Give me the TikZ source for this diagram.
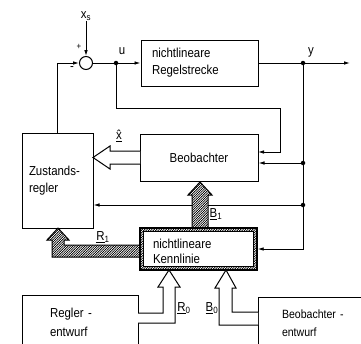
\documentclass[tikz,border=0pt]{standalone}
\usepackage{fontspec}
\setmainfont[FakeStretch=0.88]{Liberation Sans}
\usetikzlibrary{arrows.meta,calc,patterns.meta}
\tikzset{every picture/.style={line width=0.9pt}}
\tikzdeclarepattern{
  name=densehatch, type=uncolored,
  bounding box={(-1pt,-1pt) and (3.4pt,3.4pt)},
  tile size={(2.4pt,2.4pt)},
  code={\draw[line width=0.45pt] (-1pt,-1pt) -- (3.4pt,3.4pt);}
}
\tikzset{
  block/.style={draw, line width=1pt, fill=white, inner sep=0pt, font=\fontsize{13pt}{17pt}\selectfont},
  sig/.style={-{Latex[length=6pt,width=3.6pt]}},
  hatched/.style={draw, line width=1pt, fill=white, postaction={pattern=densehatch}},
  hollow/.style={draw, line width=1pt, fill=white},
  lbl/.style={inner sep=0pt, font=\fontsize{13pt}{14pt}\selectfont},
  dot/.style={circle, fill, inner sep=0pt, minimum size=4.5pt}
}

\begin{document}
\begin{tikzpicture}[x=1pt,y=-1pt]
  \useasboundingbox (0,0) rectangle (361,343);
  \clip (0,0) rectangle (361,343);

  % Regelkreis oben
  \node[block, minimum width=117pt, minimum height=46pt, text width=95pt, align=left] (strecke) at (199.5,63) {nichtlineare\\Regelstrecke};
  \node[circle, draw, line width=1pt, minimum size=13pt, inner sep=0pt] (sum) at (86,63) {};
  \node[lbl] (xs) at (86,16) {x\textsubscript{s}};
  \node[lbl] (plus) at (79,47) {\fontsize{9pt}{9pt}\selectfont +};
  \node[lbl] (minus) at (72,69) {-};
  \coordinate (u) at (116,63);
  \coordinate (y) at (303,63);
  \coordinate (out) at (350,63);
  \node[lbl] (ulbl) at (122,51) {u};
  \node[lbl] (ylbl) at (311,52) {y};

  % Beobachter und Zustandsregler
  \node[block, minimum width=118pt, minimum height=47pt] (beob) at (199,157.5) {Beobachter};
  \node[block, minimum width=71pt, minimum height=95pt, text width=57pt, align=left] (zreg) at (57.5,180.5) {Zustands-\\regler};

  % Entwurfsbloecke unten
  \node[block, minimum width=116pt, minimum height=54pt, text width=60pt, align=left, font=\fontsize{13pt}{19pt}\selectfont] (rent) at (80,322) {Regler -\\entwurf};
  \node[block, minimum width=112pt, minimum height=52pt, text width=64pt, align=left, font=\fontsize{12pt}{18pt}\selectfont] (bent) at (314,323) {Beobachter -\\entwurf};

  % Signalleitungen
  \draw[sig] (xs) -- (sum.north);
  \draw[sig] (zreg.north) |- (sum.west);
  \draw[sig] (sum.east) -- (strecke.west);
  \draw[sig] (strecke.east) -- (out);
  \coordinate (ru) at (280,108);
  \coordinate (bu) at (258,152);
  \draw[sig] (u) |- (ru) |- (bu);
  \coordinate (yb) at (303,163);
  \coordinate (yz) at (303,205);
  \draw[sig] (yb) -- (yb -| beob.east);
  \draw[sig] (yz) -- (yz -| zreg.east);

  % x-Dach Doppelpfeil
  \draw[hollow] (140,151) -- (110,151) -- (110,146) -- (93,157.5) -- (110,169) -- (110,164) -- (140,164);
  \node[lbl] (xhat) at (119,136) {\underline{\^{x}}};

  % schraffierte Pfeile
  \draw[hatched] (192,228) -- (192,195) -- (188,195) -- (200,182) -- (212,195) -- (208,195) -- (208,228);
  \draw[hatched] (141,245) -- (64,245) -- (64,240) -- (69,240) -- (58,228) -- (47,240) -- (52,240) -- (52,257) -- (141,257);
  \node[lbl] (blbl) at (216,214) {\underline{B}\textsubscript{1}};
  \node[lbl] (rlbl) at (103,237) {\underline{R}\textsubscript{1}};

  % Kennlinie mit schraffiertem Rahmen
  \node[draw, line width=1.4pt, minimum width=117pt, minimum height=42pt, preaction={fill=white}, pattern=densehatch] (kenn) at (198.5,249) {};
  \draw[line width=0.6pt, fill=white] ($(kenn.south west)+(4,-4)$) rectangle ($(kenn.north east)+(-4,4)$);
  \node[lbl, text width=91pt, align=left, font=\fontsize{13pt}{15pt}\selectfont] (kenntxt) at (198.5,251) {nichtlineare\\Kennlinie};
  \draw[sig] (y) |- (kenn.east);
  \foreach \p in {u,y,yb,yz} \node[dot] at (\p) {};

  % offene Pfeile R0 und B0
  \draw[hollow] (138,313) -- (163,313) -- (163,287) -- (158,287) -- (169,270) -- (180,287) -- (175,287) -- (175,323) -- (138,323);
  \draw[hollow] (258,312) -- (232,312) -- (232,288) -- (236,288) -- (226,270) -- (215,288) -- (219,288) -- (219,325) -- (258,325);
  \node[lbl] (r0lbl) at (184,308) {\underline{R}\textsubscript{0}};
  \node[lbl] (b0lbl) at (212,308) {\underline{B}\textsubscript{0}};
\end{tikzpicture}
\end{document}
